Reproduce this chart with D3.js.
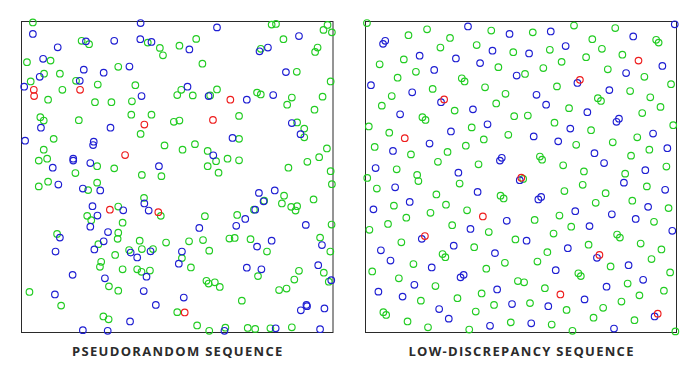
<!DOCTYPE html>
<html><head><meta charset="utf-8">
<script src="https://cdn.jsdelivr.net/npm/d3@7"></script>
<style>html,body{margin:0;padding:0;background:#fff}svg{display:block}</style>
</head><body>
<script>
const panelTitles = ["PSEUDORANDOM SEQUENCE", "LOW-DISCREPANCY SEQUENCE"];
const seriesNames = ["points 101–256", "points 11–100", "points 1–10"];

// Left panel: pseudorandom points (x, y in unit square, y measured from top)
const pseudoRed = [[0.038,0.220],[0.039,0.240],[0.187,0.220],[0.671,0.252],[0.615,0.317],[0.394,0.332],[0.332,0.430],[0.283,0.606],[0.439,0.614],[0.524,0.937]];
const pseudoBlue = [[0.382,0.005],[0.035,0.040],[0.206,0.064],[0.297,0.062],[0.381,0.057],[0.417,0.066],[0.115,0.083],[0.068,0.120],[0.346,0.145],[0.199,0.155],[0.263,0.165],[0.057,0.178],[0.186,0.191],[0.007,0.210],[0.385,0.240],
[0.628,0.019],[0.539,0.090],[0.892,0.047],[0.792,0.084],[0.765,0.096],[0.850,0.163],[0.533,0.210],[0.601,0.240],[0.724,0.252],[0.809,0.237],[0.869,0.327],
[0.061,0.342],[0.285,0.342],[0.010,0.384],[0.231,0.387],[0.229,0.398],[0.165,0.442],[0.165,0.448],[0.220,0.456],[0.099,0.471],[0.441,0.466],[0.117,0.525],[0.196,0.538],[0.252,0.544],[0.394,0.586],[0.227,0.595],[0.326,0.608],[0.408,0.609],[0.243,0.625],[0.220,0.661],
[0.897,0.363],[0.678,0.375],[0.616,0.431],[0.763,0.552],[0.814,0.544],[0.778,0.579],[0.751,0.606],[0.719,0.636],[0.690,0.658],[0.914,0.655],
[0.122,0.696],[0.277,0.678],[0.263,0.708],[0.233,0.734],[0.108,0.741],[0.350,0.744],[0.414,0.740],[0.371,0.760],[0.401,0.822],[0.163,0.816],[0.267,0.827],[0.392,0.868],[0.106,0.879],[0.431,0.913],[0.348,0.966],[0.196,0.994],[0.276,0.996],
[0.571,0.665],[0.804,0.706],[0.757,0.725],[0.966,0.720],[0.515,0.741],[0.505,0.780],[0.724,0.793],[0.771,0.798],[0.954,0.785],[0.996,0.833],[0.521,0.889],[0.916,0.913],[0.918,0.917],[0.898,0.930],[0.974,0.924],[0.652,0.996],[0.817,0.988],[0.960,0.991]];
const pseudoGreen = [[0.035,0.003],[0.192,0.062],[0.216,0.073],[0.405,0.068],[0.444,0.085],[0.454,0.109],[0.092,0.126],[0.016,0.131],[0.310,0.146],[0.122,0.168],[0.071,0.168],[0.028,0.193],[0.174,0.191],[0.244,0.203],[0.365,0.205],[0.130,0.220],[0.500,0.237],[0.084,0.252],[0.235,0.260],[0.288,0.260],[0.354,0.257],[0.352,0.300],[0.417,0.300],[0.059,0.308],[0.070,0.319],[0.183,0.318],[0.489,0.323],
[0.804,0.010],[0.818,0.008],[0.984,0.011],[0.971,0.027],[0.998,0.035],[0.561,0.056],[0.507,0.078],[0.842,0.057],[0.952,0.084],[0.944,0.098],[0.769,0.088],[0.581,0.136],[0.885,0.162],[0.994,0.193],[0.513,0.220],[0.550,0.238],[0.606,0.238],[0.628,0.219],[0.757,0.229],[0.769,0.235],[0.869,0.245],[0.854,0.268],[0.968,0.242],[0.942,0.284],[0.699,0.304],[0.507,0.319],[0.886,0.325],
[0.102,0.378],[0.382,0.362],[0.459,0.399],[0.070,0.413],[0.054,0.448],[0.081,0.442],[0.242,0.466],[0.297,0.473],[0.172,0.488],[0.386,0.494],[0.449,0.498],[0.084,0.516],[0.054,0.531],[0.213,0.543],[0.242,0.519],[0.393,0.568],[0.310,0.596],[0.447,0.626],[0.210,0.626],[0.223,0.640],[0.324,0.648],
[0.909,0.345],[0.909,0.373],[0.699,0.378],[0.557,0.395],[0.517,0.413],[0.598,0.417],[0.625,0.450],[0.598,0.466],[0.633,0.487],[0.662,0.442],[0.699,0.447],[0.982,0.409],[0.957,0.437],[0.919,0.452],[0.858,0.471],[0.994,0.482],[0.998,0.524],[0.844,0.561],[0.780,0.577],[0.837,0.586],[0.867,0.597],[0.886,0.595],[0.881,0.609],[0.939,0.573],[0.747,0.606],[0.589,0.627],[0.693,0.623],[0.997,0.654],
[0.113,0.684],[0.310,0.680],[0.308,0.700],[0.246,0.717],[0.379,0.706],[0.464,0.712],[0.345,0.736],[0.386,0.733],[0.422,0.733],[0.300,0.752],[0.255,0.774],[0.251,0.790],[0.324,0.798],[0.371,0.798],[0.385,0.806],[0.412,0.802],[0.280,0.853],[0.310,0.867],[0.024,0.871],[0.126,0.915],[0.500,0.936],[0.262,0.950],[0.279,0.959],
[0.538,0.708],[0.583,0.704],[0.668,0.699],[0.685,0.697],[0.736,0.701],[0.789,0.741],[0.960,0.696],[0.993,0.741],[0.515,0.762],[0.603,0.738],[0.544,0.792],[0.760,0.820],[0.972,0.809],[0.892,0.803],[0.877,0.831],[0.988,0.838],[0.594,0.835],[0.601,0.844],[0.621,0.840],[0.637,0.855],[0.852,0.860],[0.828,0.865],[0.708,0.899],[0.564,0.979],[0.603,0.996],[0.655,0.986],[0.727,0.987],[0.751,0.990],[0.800,0.988],[0.869,0.985]];

// Right panel: low-discrepancy points
const sobolRed = [[0.252,0.251],[0.879,0.126],[0.690,0.188],[0.125,0.376],[0.377,0.628],[0.501,0.503],[0.190,0.691],[0.753,0.752],[0.627,0.879],[0.941,0.941]];
const sobolBlue = [[0.329,0.016],[0.463,0.040],[0.062,0.062],[0.055,0.072],[0.408,0.094],[0.173,0.110],[0.290,0.119],[0.368,0.134],[0.220,0.156],[0.486,0.174],[0.016,0.205],[0.149,0.228],[0.242,0.260],[0.345,0.283],[0.110,0.299],
[0.996,0.009],[0.596,0.032],[0.862,0.048],[0.644,0.079],[0.526,0.103],[0.956,0.143],[0.839,0.166],[0.682,0.198],[0.785,0.221],[0.550,0.236],[0.581,0.268],[0.714,0.292],[0.816,0.313],[0.808,0.323],
[0.392,0.331],[0.274,0.354],[0.205,0.393],[0.087,0.417],[0.438,0.439],[0.432,0.448],[0.031,0.472],[0.298,0.487],[0.094,0.534],[0.360,0.549],[0.141,0.581],[0.024,0.605],[0.454,0.642],
[0.659,0.345],[0.541,0.370],[0.620,0.386],[0.926,0.361],[0.972,0.408],[0.737,0.424],[0.768,0.456],[0.901,0.479],[0.496,0.511],[0.832,0.519],[0.965,0.542],[0.556,0.573],[0.565,0.565],[0.910,0.597],[0.675,0.611],[0.793,0.621],[0.870,0.636],[0.721,0.659],
[0.337,0.668],[0.180,0.700],[0.283,0.722],[0.048,0.737],[0.416,0.746],[0.079,0.770],[0.212,0.792],[0.315,0.816],[0.305,0.824],[0.156,0.848],[0.040,0.870],[0.118,0.886],[0.423,0.863],[0.471,0.910],[0.236,0.926],[0.267,0.957],[0.400,0.980],
[0.988,0.674],[0.518,0.706],[0.651,0.730],[0.745,0.761],[0.847,0.785],[0.612,0.801],[0.894,0.832],[0.776,0.854],[0.705,0.895],[0.588,0.917],[0.931,0.950],[0.533,0.972],[0.800,0.989]];
const sobolGreen = [[0.003,0.005],[0.197,0.025],[0.137,0.044],[0.404,0.029],[0.271,0.053],[0.357,0.076],[0.240,0.084],[0.475,0.099],[0.122,0.122],[0.044,0.138],[0.427,0.147],[0.161,0.162],[0.102,0.181],[0.309,0.183],[0.318,0.193],[0.215,0.217],[0.384,0.212],[0.450,0.233],[0.083,0.240],[0.420,0.264],[0.051,0.271],[0.286,0.287],[0.182,0.308],[0.192,0.317],[0.478,0.305],
[0.671,0.013],[0.804,0.021],[0.538,0.035],[0.730,0.057],[0.936,0.059],[0.944,0.068],[0.761,0.088],[0.593,0.091],[0.827,0.107],[0.710,0.115],[0.631,0.130],[0.572,0.150],[0.780,0.154],[0.513,0.169],[0.898,0.178],[0.984,0.202],[0.616,0.209],[0.852,0.224],[0.748,0.247],[0.758,0.256],[0.917,0.244],[0.655,0.279],[0.950,0.275],[0.891,0.295],[0.522,0.303],[0.608,0.326],
[0.009,0.338],[0.341,0.341],[0.075,0.358],[0.459,0.365],[0.380,0.380],[0.322,0.400],[0.028,0.404],[0.145,0.428],[0.263,0.420],[0.232,0.452],[0.363,0.460],[0.099,0.476],[0.165,0.494],[0.169,0.514],[0.004,0.504],[0.302,0.522],[0.035,0.538],[0.227,0.557],[0.434,0.561],[0.444,0.570],[0.258,0.590],[0.090,0.593],[0.326,0.608],[0.208,0.616],[0.130,0.632],[0.071,0.652],[0.278,0.656],
[0.991,0.334],[0.726,0.350],[0.678,0.397],[0.796,0.389],[0.875,0.373],[0.914,0.413],[0.855,0.432],[0.561,0.435],[0.568,0.445],[0.636,0.463],[0.969,0.467],[0.703,0.483],[0.836,0.490],[0.507,0.507],[0.699,0.526],[0.906,0.531],[0.640,0.546],[0.773,0.553],[0.741,0.584],[0.859,0.577],[0.976,0.601],[0.624,0.625],[0.544,0.639],[0.929,0.645],[0.662,0.661],
[0.011,0.671],[0.396,0.678],[0.482,0.702],[0.114,0.711],[0.349,0.727],[0.247,0.749],[0.256,0.759],[0.153,0.781],[0.448,0.777],[0.388,0.796],[0.020,0.805],[0.106,0.827],[0.224,0.852],[0.490,0.836],[0.177,0.899],[0.295,0.891],[0.373,0.876],[0.413,0.913],[0.354,0.934],[0.056,0.936],[0.065,0.945],[0.134,0.966],[0.467,0.969],[0.200,0.985],[0.333,0.992],
[0.605,0.683],[0.810,0.686],[0.819,0.696],[0.886,0.715],[0.718,0.719],[0.953,0.734],[0.585,0.743],[0.921,0.765],[0.553,0.773],[0.789,0.789],[0.981,0.808],[0.685,0.811],[0.693,0.820],[0.510,0.840],[0.844,0.844],[0.577,0.859],[0.961,0.867],[0.882,0.882],[0.529,0.907],[0.824,0.902],[0.647,0.929],[0.765,0.922],[0.734,0.954],[0.866,0.962],[0.599,0.976],[0.666,0.996],[0.998,0.998]];

const colors = ["#22cc22", "#1e1ed2", "#ee1c1c"];

const panels = [
  {title: panelTitles[0], series: [pseudoGreen, pseudoBlue, pseudoRed], left: 21.5, right: 333},
  {title: panelTitles[1], series: [sobolGreen, sobolBlue, sobolRed], left: 365.5, right: 676.5}
];
const frameTop = 21.5, frameBottom = 332.5;

const svg = d3.select("body").append("svg").attr("width", 700).attr("height", 368);

panels.forEach(p => {
  const g = svg.append("g");
  const x = d3.scaleLinear().domain([0, 1]).range([p.left + 0.5, p.right - 0.5]);
  const y = d3.scaleLinear().domain([0, 1]).range([frameTop, frameBottom - 0.5]);
  g.append("rect").attr("x", p.left).attr("y", frameTop)
    .attr("width", p.right - p.left).attr("height", frameBottom - frameTop)
    .attr("fill", "#fff").attr("stroke", "#2a2a2a").attr("stroke-width", 1);
  p.series.forEach((pts, i) => {
    g.append("g").attr("class", "series").attr("data-name", seriesNames[i])
      .selectAll("circle").data(pts).join("circle")
      .attr("cx", d => x(d[0])).attr("cy", d => y(d[1])).attr("r", 3.3)
      .attr("fill", "none").attr("stroke", colors[i]).attr("stroke-width", 1.15);
  });
  g.append("text").attr("x", (p.left + p.right) / 2 + 0.6).attr("y", 356)
    .attr("text-anchor", "middle")
    .attr("font-family", "'Open Sans', 'DejaVu Sans', sans-serif")
    .attr("font-weight", 700).attr("font-size", 13)
    .attr("letter-spacing", 1.3).attr("fill", "#2b2b2b")
    .text(p.title);
});
</script>
</body></html>
